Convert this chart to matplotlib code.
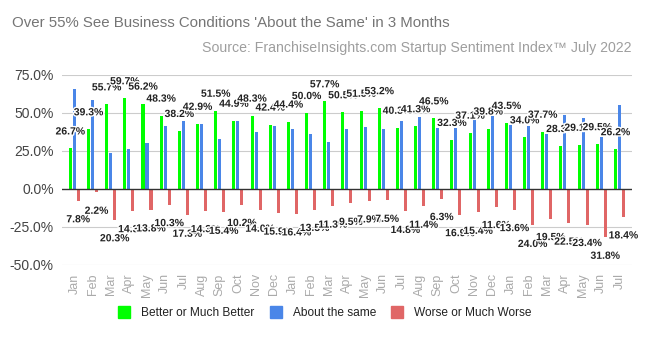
import matplotlib
matplotlib.use("Agg")
import matplotlib.pyplot as plt
import matplotlib.patheffects as pe
from matplotlib.lines import Line2D
import numpy as np

plt.rcParams['font.family'] = ['Liberation Sans', 'DejaVu Sans']

months = ["Jan", "Feb", "Mar", "Apr", "May", "Jun", "Jul", "Aug", "Sep", "Oct", "Nov", "Dec",
          "Jan", "Feb", "Mar", "Apr", "May", "Jun", "Jul", "Aug", "Sep", "Oct", "Nov", "Dec",
          "Jan", "Feb", "Mar", "Apr", "May", "Jun", "Jul"]
better = [26.7, 39.3, 55.7, 59.7, 56.2, 48.3, 38.2, 42.9, 51.5, 44.9, 48.3, 42.4,
          44.4, 50.0, 57.7, 50.5, 51.5, 53.2, 40.3, 41.3, 46.5, 32.3, 37.1, 39.8,
          43.5, 34.0, 37.7, 28.3, 29.1, 29.5, 26.2]
same = [65.5, 58.5, 24.0, 26.0, 30.0, 41.4, 44.5, 42.8, 33.1, 44.9, 37.7, 41.7,
        39.2, 36.5, 31.0, 39.5, 40.6, 39.3, 44.9, 47.3, 40.4, 40.4, 45.2, 47.7,
        42.0, 41.7, 36.3, 49.0, 46.8, 34.2, 55.4]
worse = [7.8, 2.2, 20.3, 14.3, 13.8, 10.3, 17.3, 14.3, 15.4, 10.2, 14.0, 15.9,
         16.4, 13.5, 11.3, 9.5, 7.9, 7.5, 14.8, 11.4, 6.3, 16.9, 15.4, 11.6,
         13.6, 24.0, 19.5, 22.5, 23.4, 31.8, 18.4]
series_names = ["Better or Much Better", "About the same", "Worse or Much Worse"]
colors = ["#00ff00", "#4a86e8", "#e06666"]
yticks = [-50, -25, 0, 25, 50, 75]

fig = plt.figure(figsize=(6.49, 3.38), dpi=100)
ax = fig.add_axes([62/649, 1-265/338, 570/649, 190/338])

x = np.arange(len(months))
w = 0.17
off = 0.22
ax.bar(x - off, better, w, color=colors[0], zorder=3)
ax.bar(x, same, w, color=colors[1], zorder=3)
ax.bar(x + off, [-v for v in worse], w, color=colors[2], zorder=3)

ax.set_ylim(-50, 75)
ax.set_xlim(-0.68, 30.69)
ax.set_yticks(yticks)
ax.set_yticklabels([f"{t:.1f}%" for t in yticks], fontsize=10, color="#444444")
ax.set_xticks(x)
ax.set_xticklabels(months, rotation=90, fontsize=9, color="#aaaaaa")
ax.tick_params(axis="y", length=0, pad=6)
ax.tick_params(axis="x", length=0, pad=6)
for s in ax.spines.values():
    s.set_visible(False)
for t in yticks:
    if t != 0:
        ax.axhline(t, color="#cccccc", lw=0.8, zorder=1)
ax.axhline(0, color="#333333", lw=1, zorder=4)

stroke = [pe.withStroke(linewidth=2, foreground="white")]
for i in range(len(months)):
    ax.annotate(f"{better[i]:.1f}%", (x[i] - off, better[i]), xytext=(0, 12.2),
                textcoords="offset points", ha="center", va="center",
                fontsize=7.5, fontweight="bold", color="#222222",
                path_effects=stroke, zorder=6)
    ax.annotate(f"{worse[i]:.1f}%", (x[i] + off, -worse[i]), xytext=(0, -13.3),
                textcoords="offset points", ha="center", va="center",
                fontsize=7.5, fontweight="bold", color="#222222",
                path_effects=stroke, zorder=6)

fig.text(12/649, 1-23/338, "Over 55% See Business Conditions 'About the Same' in 3 Months",
         fontsize=10.8, color="#757575", ha="left", va="center")
fig.text(632/649, 1-48/338, "Source: FranchiseInsights.com Startup Sentiment Index\u2122 July 2022",
         fontsize=10.2, color="#9e9e9e", ha="right", va="center")

handles = [Line2D([0], [0], marker="s", linestyle="none", markersize=8,
                  markerfacecolor=c, markeredgecolor=c) for c in colors]
fig.legend(handles, series_names, loc="center", bbox_to_anchor=(322/649, 1-313/338),
           ncol=3, frameon=False, fontsize=8.6, handletextpad=0.4, columnspacing=0.8,
           labelcolor="#222222")

fig.savefig("out.png", dpi=100)
